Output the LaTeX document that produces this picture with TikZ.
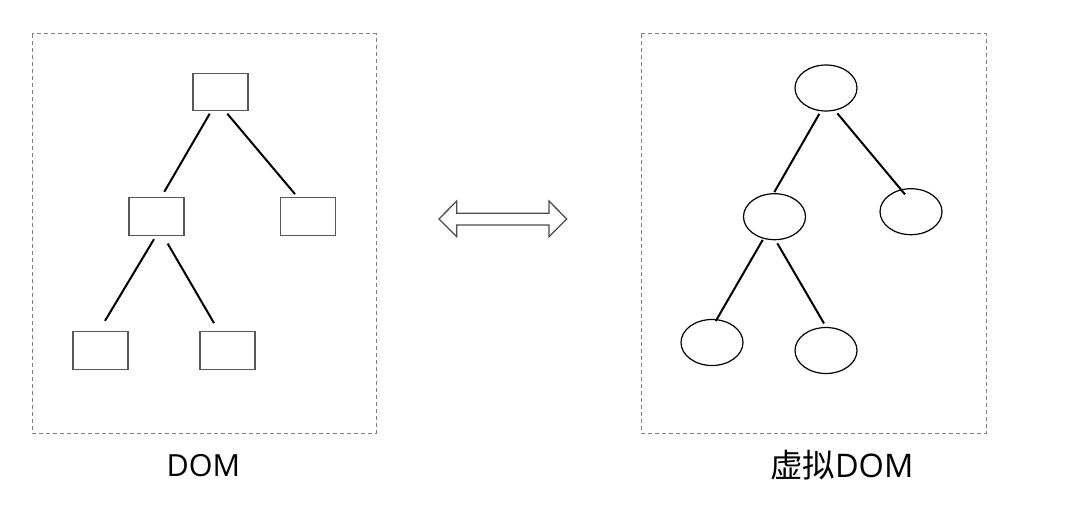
\documentclass[tikz,border=0pt]{standalone}
\usepackage{fontspec}
\newfontfamily\cjk{Noto Sans CJK SC}
\newfontfamily\lat{Open Sans}
\usetikzlibrary{calc,shapes.geometric}
\begin{document}
\begin{tikzpicture}[x=1pt,y=-1pt,
  frame/.style={draw=black!50, line width=1pt, dash pattern=on 4pt off 3pt},
  rbox/.style={draw=black!65, line width=1.3pt, minimum width=55pt, minimum height=37.5pt, inner sep=0pt},
  ebox/.style={ellipse, draw=black, line width=1.2pt, minimum width=62pt, minimum height=46pt, inner sep=0pt},
  edge/.style={draw=black, line width=2pt},
  dblarrow/.style={draw=black!70, line width=1.3pt, fill=white},
  lab/.style={font=\lat\fontsize{30.5}{34}\selectfont, anchor=base, inner sep=0pt}]
\useasboundingbox (0,0) rectangle (1069,524);
% frames
\draw[frame] (32,34) rectangle (376,433);
\draw[frame] (641,34) rectangle (986,433);
% left tree
\node[rbox] (t)  at (220.5,92) {};
\node[rbox] (ml) at (156.5,216.5) {};
\node[rbox] (mr) at (308.3,216.5) {};
\node[rbox] (bl) at (100.5,350.5) {};
\node[rbox] (br) at (227.5,350.5) {};
\draw[edge] ($(t.south)+(-10.8,2.3)$) -- ($(ml.north)+(7.8,-5.3)$);
\draw[edge] ($(t.south)+(6.8,2.3)$) -- ($(mr.north)+(-13.3,-3)$);
\draw[edge] ($(ml.south)+(-2.5,3.3)$) -- ($(bl.north)+(4.5,-10.3)$);
\draw[edge] ($(ml.south)+(11.2,7.7)$) -- ($(br.north)+(-13.5,-8)$);
% right tree
\node[ebox] (T)  at (826,88) {};
\node[ebox] (ML) at (774.5,216.7) {};
\node[ebox] (MR) at (911,211.7) {};
\node[ebox] (BL) at (712,342.5) {};
\node[ebox] (BR) at (826,350.5) {};
\draw[edge] ($(T.south)+(-6.7,2.3)$) -- ($(ML.north)+(-0.2,-1)$);
\draw[edge] ($(T.south)+(11.3,1.7)$) -- ($(MR.north)+(-6,6.3)$);
\draw[edge] ($(ML.south)+(-11.8,-0.4)$) -- ($(BL.north)+(3.7,2.2)$);
\draw[edge] ($(ML.south)+(2.8,3)$) -- ($(BR.north)+(-2,-3.5)$);
% double arrow
\coordinate (arr) at (503,219);
\draw[dblarrow] ($(arr)+(-64,0)$) -- ($(arr)+(-46.3,-18)$) -- ($(arr)+(-46.3,-5.8)$)
  -- ($(arr)+(46,-5.8)$) -- ($(arr)+(46,-18)$) -- ($(arr)+(63.7,0)$)
  -- ($(arr)+(46,17.7)$) -- ($(arr)+(46,6)$) -- ($(arr)+(-46.3,6)$)
  -- ($(arr)+(-46.3,17.7)$) -- cycle;
% labels
\node[lab] (l1) at (203.5,476.7) {DOM};
\node[lab, font=\lat\fontsize{32.5}{36}\selectfont] (l2) at (841.7,477.5) {{\cjk 虚拟}DOM};
\end{tikzpicture}
\end{document}
